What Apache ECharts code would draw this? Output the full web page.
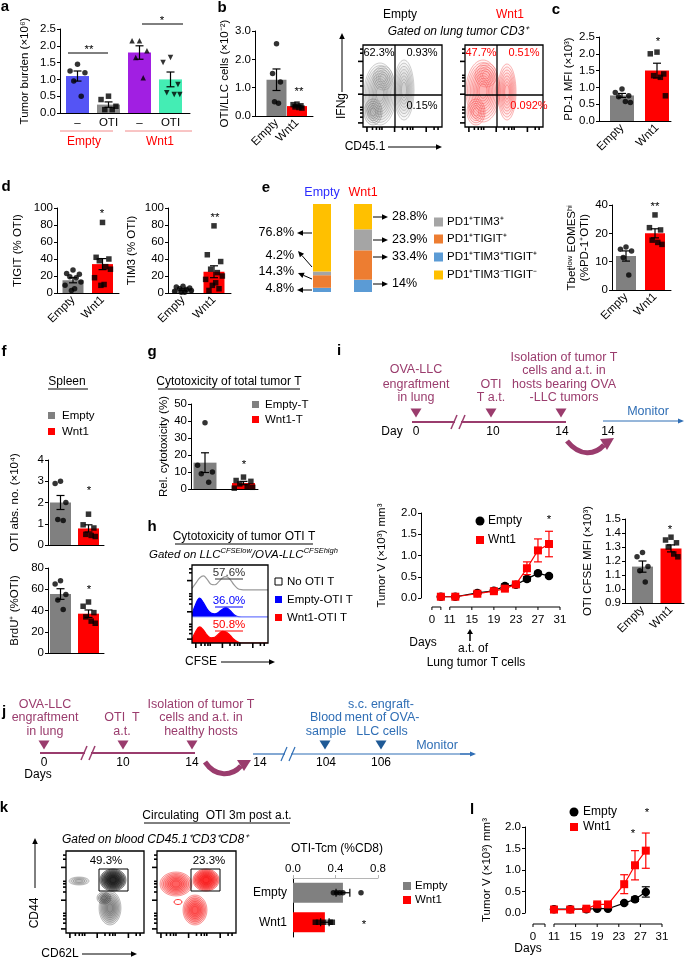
<!DOCTYPE html>
<html><head><meta charset="utf-8">
<script src="https://cdn.jsdelivr.net/npm/echarts@6.0.0/dist/echarts.min.js"></script>
<style>html,body{margin:0;padding:0;background:#fff;overflow:hidden}#c{width:685px;height:959px}</style>
</head><body><div id="c"></div>
<script>
// ================= DATA =================
// a
const catsA=['–','OTI','–','OTI'];
const groupsA=['Empty','Wnt1'];
const meanA=[1.10,0.25,1.80,1.00];
const semA=[0.15,0.08,0.20,0.22];
const ptsA=[[1.45,1.25,1.2,0.95,0.5],[0.5,0.4,0.2,0.1,0.1],[2.15,2.15,1.85,1.65,1.05],[1.65,1.5,0.85,0.6,0.55,0.55]];
// shared categories
const catsEW=['Empty','Wnt1'];
// b
const meanB=[1.28,0.35], semB=[0.38,0.03];
const ptsB=[[2.55,1.5,1.2,0.5,0.45],[0.42,0.4,0.36,0.32,0.3,0.28]];
const flowPctB=[['62.3%','0.93%','0.15%'],['47.7%','0.51%','0.092%']];
// c
const meanC=[0.76,1.50], semC=[0.06,0.22];
const ptsC=[[0.95,0.85,0.75,0.72,0.58,0.55],[2.05,2.0,1.4,1.35,1.3,0.75]];
// d
const meanTIGIT=[15,34], semTIGIT=[3.0,6.5];
const ptsTIGIT=[[27,23,22,19,18,13,9,5,3],[83,42,40,38,31,28,18,10,9]];
const meanTIM3=[4,25], semTIM3=[0.9,7.0];
const ptsTIM3=[[8,7,6,5,4,3,2,1,1],[79,45,37,28,24,20,16,12,9,5,3]];
// e
const subsets=['PD1⁺TIM3⁺','PD1⁺TIGIT⁺','PD1⁺TIM3⁺TIGIT⁺','PD1⁺TIM3⁻TIGIT⁻'];
const stackEmpty=[4.2,14.3,4.8,76.8];
const stackWnt1=[23.9,33.4,14,28.8];
const meanTbet=[12,20], semTbet=[1.8,1.6];
const ptsTbet=[[15.2,14.4,13.8,11.5,5.3],[26.5,22,21.2,17.6,16.8,16.1]];
const tbetTickLabels=['0','10','20','40'];
// f
const legF=['Empty','Wnt1'];
const meanSpl=[2.0,0.78], semSpl=[0.33,0.17];
const ptsSpl=[[3.0,2.9,2.0,1.2,1.15],[1.45,0.95,0.8,0.5,0.45,0.4]];
const meanBrdU=[55.5,37], semBrdU=[5,3.5];
const ptsBrdU=[[68,65,55,50,41],[48,44,38,34,30,28]];
// g
const legG=['Empty-T','Wnt1-T'];
const meanCyto=[15.5,3.5], semCyto=[5.8,1.0];
const ptsCyto=[[39,14,10,9,4],[7,5,4.5,3,1.5,1,0.5]];
// h
const legH=['No OTI T','Empty-OTI T','Wnt1-OTI T'];
const cfseBins=[0,0.05,0.1,0.15,0.2,0.25,0.3,0.35,0.4,0.45,0.5,0.55,0.6,0.65,0.7,0.75,0.8,0.85,0.9,0.95,1.0];
const histNo=[0.1,0.3,0.5,0.58,0.45,0.26,0.24,0.35,0.5,0.55,0.45,0.25,0.1,0.05,0.04,0.04,0.04,0.04,0.04,0.04,0.04];
const histEmpty=[0.1,0.5,0.73,0.55,0.3,0.15,0.12,0.18,0.3,0.35,0.25,0.1,0.02,0,0,0,0,0,0,0,0];
const histWnt1=[0.15,0.45,0.62,0.5,0.3,0.2,0.22,0.35,0.45,0.42,0.3,0.15,0.05,0,0,0,0,0,0,0,0];
const pctH=['57.6%','36.0%','50.8%'];
// i
const daysI=[10,12,16,19,21,23,25,27,29];
const tumEmptyI=[0.03,0.03,0.12,0.17,0.28,0.31,0.45,0.58,0.52];
const semEmptyI=[0.01,0.01,0.02,0.03,0.05,0.04,0.05,0.03,0.03];
const tumWnt1I=[0.03,0.03,0.1,0.16,0.22,0.32,0.7,1.12,1.27];
const semWnt1I=[0.01,0.01,0.02,0.03,0.04,0.04,0.15,0.27,0.3];
const tickDaysI=[0,11,15,19,23,27,31];
const meanCFSE=[1.16,1.29], semCFSE=[0.04,0.025];
const ptsCFSE=[[1.26,1.23,1.16,1.13,1.05],[1.37,1.35,1.33,1.3,1.25,1.23]];
// k
const meanTcm=[0.47,0.30], semTcm=[0.065,0.04];
const ptsTcm=[[0.38,0.41,0.44,0.47,0.64],[0.21,0.24,0.29,0.35,0.37]];
const flowPctK=['49.3%','23.3%'];
// l
const daysL=[11,14,17,19,21,24,26,28];
const tumEmptyL=[0.09,0.09,0.09,0.1,0.1,0.23,0.32,0.49];
const semEmptyL=[0.02,0.02,0.02,0.02,0.02,0.03,0.05,0.12];
const tumWnt1L=[0.08,0.08,0.1,0.2,0.2,0.67,1.11,1.45];
const semWnt1L=[0.02,0.02,0.03,0.04,0.04,0.22,0.34,0.41];
const tickDaysL=[0,11,15,19,23,27,31];

// ================= STYLE / HELPERS =================
const FONT='"Liberation Sans", Arial, Helvetica, sans-serif';
const GREY='#808080', RED='#FF0000';
const colA=['#5454F5','#8C8C8C','#A11FE2','#44EDB4'];
const colE=['#A5A5A5','#ED7D31','#5B9BD5','#FFC000'];
const PUR='#9A3C6D', TBLUE='#2F6EB5', TBLUE2='#1F5A96';
const JIT=[0,-0.24,0.24,-0.12,0.12,0.3,-0.3,0.06,-0.06,0.18,-0.18];
const LBL={color:'#000',fontSize:11.5,fontFamily:FONT};
const fmt1=v=>Number(v).toFixed(1);

const G=[],XA=[],YA=[],S=[],GR=[];

function txt(x,y,t,o={}){GR.push({type:'text',x,y,rotation:o.rot||0,z:30,silent:true,
  style:{text:t,fill:o.c||'#000',font:(o.it?'italic ':'')+(o.b?'bold ':'')+(o.s||11.5)+'px '+FONT,
  align:o.a||'center',verticalAlign:o.v||'middle',textAlign:o.a||'center',textVerticalAlign:o.v||'middle',rich:o.rich}});}
function ln(x1,y1,x2,y2,c='#000',w=1,z=25){GR.push({type:'line',z,silent:true,shape:{x1,y1,x2,y2},style:{stroke:c,lineWidth:w}});}
function poly(pts,c,z=25){GR.push({type:'polygon',z,silent:true,shape:{points:pts},style:{fill:c}});}
function rect(x,y,w,h,o={}){GR.push({type:'rect',z:o.z||25,silent:true,shape:{x,y,width:w,height:h},style:{fill:o.f||'none',stroke:o.s||null,lineWidth:o.w||1}});}
function ell(cx,cy,rx,ry,o={}){GR.push({type:'ellipse',z:o.z||22,silent:true,shape:{cx,cy,rx,ry},style:{fill:o.f||'none',stroke:o.s||null,lineWidth:o.w||0.8}});}
function arrow(x1,y1,x2,y2,c='#000',w=1,hl=6,hw=2.8){const a=Math.atan2(y2-y1,x2-x1);const bx=x2-hl*Math.cos(a),by=y2-hl*Math.sin(a);
  ln(x1,y1,bx,by,c,w);poly([[x2,y2],[bx+hw*Math.sin(a),by-hw*Math.cos(a)],[bx-hw*Math.sin(a),by+hw*Math.cos(a)]],c);}
function triDown(x,y,c,w=11,h=9){poly([[x-w/2,y-h/2],[x+w/2,y-h/2],[x,y+h/2]],c);}
function contour(cx,cy,rx,ry,n,stroke,fill){for(let i=0;i<n;i++){const f=1-i*0.85/n;ell(cx,cy,rx*f,ry*f,{s:stroke,f:fill,w:0.6});}}
function flowBox(x0,y0,w,h){rect(x0,y0,w,h,{s:'#000',w:1.3,z:27});
  const fr=[0.05,0.12,0.17,0.21,0.24,0.4,0.5,0.56,0.6,0.63,0.8,0.9,0.95];
  fr.forEach((f,i)=>{const L=(i%5===0)?5:3;ln(x0-L,y0+h*(1-f),x0,y0+h*(1-f),'#000',1.6,27);ln(x0+w*f,y0+h,x0+w*f,y0+h+L,'#000',1.6,27);});}

function errSeries(gi,xs,means,sems,cap,color='#000',horizontal=false){
  return {type:'custom',xAxisIndex:gi,yAxisIndex:gi,z:5,clip:false,silent:true,
    data:means.map((m,i)=>horizontal?[m,xs[i],sems[i]]:[xs[i],m,sems[i]]),
    renderItem(p,api){const st={stroke:color,lineWidth:1.2};
      if(horizontal){const m=api.value(0),i=api.value(1),s=api.value(2);const a=api.coord([m-s,i]),b=api.coord([m+s,i]);
        return {type:'group',children:[{type:'line',shape:{x1:a[0],y1:a[1],x2:b[0],y2:b[1]},style:st},
          {type:'line',shape:{x1:a[0],y1:a[1]-cap,x2:a[0],y2:a[1]+cap},style:st},{type:'line',shape:{x1:b[0],y1:b[1]-cap,x2:b[0],y2:b[1]+cap},style:st}]};}
      const x=api.value(0),m=api.value(1),s=api.value(2);const a=api.coord([x,m+s]),b=api.coord([x,m-s]);
      return {type:'group',children:[{type:'line',shape:{x1:a[0],y1:a[1],x2:b[0],y2:b[1]},style:st},
        {type:'line',shape:{x1:a[0]-cap,y1:a[1],x2:a[0]+cap,y2:a[1]},style:st},{type:'line',shape:{x1:b[0]-cap,y1:b[1],x2:b[0]+cap,y2:b[1]},style:st}]};}};
}
function yAx(gi,o){return {gridIndex:gi,type:'value',min:o.ymin,max:o.ymax,interval:o.interval,
  axisLine:{show:true,onZero:false,lineStyle:{color:'#000',width:1}},axisTick:{show:true,length:3,lineStyle:{color:'#000'}},
  splitLine:{show:false},axisLabel:Object.assign({margin:4,formatter:o.yfmt||(v=>String(v))},LBL),
  name:o.name,nameLocation:'middle',nameGap:o.nameGap,nameRotate:90,nameTextStyle:Object.assign({lineHeight:13},LBL)};}

function barPanel(o){
  const gi=G.length,w=o.xEnd-o.axisX;
  G.push({left:o.axisX,top:o.yTop,width:w,height:o.y0-o.yTop,outerBoundsMode:'none'});
  const xmin=-(o.c0-o.axisX)/o.step,xmax=xmin+w/o.step;
  XA.push({gridIndex:gi,type:'value',min:xmin,max:xmax,splitLine:{show:false},
    axisLine:{show:true,onZero:false,lineStyle:{color:'#000',width:1}},axisTick:{show:false},
    axisLabel:Object.assign({show:o.showX!==false,customValues:o.cats.map((c,i)=>i),formatter:v=>o.cats[Math.round(v)]||'',
      rotate:o.rotate||0,margin:o.xMargin||5},LBL,{fontSize:o.xSize||11.5})});
  YA.push(yAx(gi,o));
  S.push({type:'bar',xAxisIndex:gi,yAxisIndex:gi,barWidth:o.barWidth,z:2,silent:true,
    data:o.means.map((m,i)=>({value:[i,m],itemStyle:{color:o.colors[i]}}))});
  S.push(errSeries(gi,o.cats.map((c,i)=>i),o.means,o.sems,o.cap||4));
  o.pts.forEach((arr,i)=>S.push({type:'scatter',xAxisIndex:gi,yAxisIndex:gi,symbol:o.symbols[i],symbolSize:o.sym||5.5,
    symbolRotate:o.rot?o.rot[i]:0,itemStyle:{color:'#000'},z:4,silent:true,data:arr.map((v,j)=>[i+JIT[j%JIT.length]*(o.jw||1),v])}));
}

function linePanel(o){
  const gi=G.length;
  G.push({left:o.axisX,top:o.yTop,width:o.xEnd-o.axisX,height:o.y0-o.yTop,outerBoundsMode:'none'});
  const pos=d=>d<=o.seg1End?o.s1a+d*o.s1k:d;
  XA.push({gridIndex:gi,type:'value',min:o.xmin,max:o.xmax,show:false});
  YA.push(yAx(gi,o));
  S.push({type:'custom',xAxisIndex:gi,yAxisIndex:gi,clip:false,silent:true,z:3,data:[[0,0]],renderItem(p,api){
    const yv=api.coord([o.xmin,o.ymin])[1]+o.xoff;const ch=[];const X=d=>api.coord([pos(d),o.ymin])[0];
    const seg=(a,b)=>ch.push({type:'line',shape:{x1:X(a),y1:yv,x2:X(b),y2:yv},style:{stroke:'#000',lineWidth:1}});
    seg(0,o.seg1End);seg(o.ticks[1],o.ticks[o.ticks.length-1]);
    [0,o.seg1End].concat(o.ticks.slice(1)).forEach(d=>ch.push({type:'line',shape:{x1:X(d),y1:yv,x2:X(d),y2:yv+3},style:{stroke:'#000',lineWidth:1}}));
    o.ticks.forEach(d=>ch.push({type:'text',x:X(d),y:yv+13,style:{text:String(d),fill:'#000',font:'11.5px '+FONT,align:'center',verticalAlign:'middle'}}));
    return {type:'group',children:ch};}});
  const ser=(vals,sems,col,sym,z)=>{S.push({type:'line',xAxisIndex:gi,yAxisIndex:gi,z,silent:true,data:o.days.map((d,i)=>[pos(d),vals[i]]),
      symbol:sym,symbolSize:sym==='rect'?8:8.5,itemStyle:{color:col},lineStyle:{color:col,width:1.2}});
    const e=errSeries(gi,o.days.map(pos),vals,sems,4,col);e.z=z;S.push(e);};
  o.order.forEach(k=>{if(k==='e')ser(o.emp,o.empSem,'#000','circle',6);else ser(o.wnt,o.wntSem,RED,'rect',7);});
}

// ================= PANELS =================
// ---- a ----
txt(5,7,'a',{b:true,s:15});
barPanel({axisX:60,xEnd:190,c0:77.5,step:31,yTop:29,y0:113,ymin:0,ymax:2.5,interval:0.5,yfmt:fmt1,barWidth:23,
  cats:catsA,means:meanA,sems:semA,pts:ptsA,colors:colA,symbols:['circle','rect','triangle','triangle'],rot:[0,0,0,180],
  name:'Tumor burden (×10⁶)',nameGap:29,xMargin:4});
ln(60,131,113,131,'#F28A8A',1);ln(125,131,192,131,'#F28A8A',1);
txt(84,142,groupsA[0],{c:RED,s:12});txt(160,142,groupsA[1],{c:RED,s:12});
ln(68,53,108,53);txt(89,50,'**');ln(142,24,183,24);txt(162,21,'*');

// ---- b ----
txt(222,8,'b',{b:true,s:15});
barPanel({axisX:255,xEnd:313,c0:276.5,step:20.5,yTop:31,y0:116,ymin:0,ymax:3,interval:1,yfmt:fmt1,barWidth:20,
  cats:catsEW,means:meanB,sems:semB,pts:ptsB,colors:[GREY,RED],symbols:['circle','rect'],rotate:45,
  name:'OTI/LLC cells (×10⁻²)',nameGap:21,jw:0.8});
txt(299,92,'**');
// flow plots b
txt(400,15,catsEW[0],{s:12});txt(510,15,catsEW[1],{c:RED,s:12});
txt(458,32,'Gated on lung tumor CD3⁺',{it:true,s:12});
contour(380,94,16,31,10,'rgba(110,110,110,0.55)','rgba(150,150,150,0.07)');
contour(404,90,10,30,8,'rgba(110,110,110,0.55)','rgba(150,150,150,0.07)');
contour(373,112,9,13,5,'rgba(90,90,90,0.6)','rgba(120,120,120,0.08)');
contour(383,78,10,12,5,'rgba(110,110,110,0.5)','rgba(150,150,150,0.05)');
contour(483,91,17,31,10,'rgba(240,50,50,0.6)','rgba(255,110,110,0.06)');
contour(507,92,9,28,8,'rgba(240,50,50,0.6)','rgba(255,110,110,0.06)');
contour(476,112,9,13,5,'rgba(240,40,40,0.6)','rgba(255,110,110,0.07)');
contour(486,75,11,12,5,'rgba(240,50,50,0.5)','rgba(255,110,110,0.05)');
flowBox(363,45,79,82);flowBox(465,45,78,82);
ln(395,45,395,127,'#000',1.3,27);ln(363,95,442,95,'#000',1.3,27);
ln(497,45,497,127,'#000',1.3,27);ln(465,95,543,95,'#000',1.3,27);
txt(379,53,flowPctB[0][0],{s:11});txt(422,53,flowPctB[0][1],{s:11});txt(422,106,flowPctB[0][2],{s:11});
txt(481,53,flowPctB[1][0],{s:11,c:RED});txt(524,53,flowPctB[1][1],{s:11,c:RED});txt(529,106,flowPctB[1][2],{s:11,c:RED});
arrow(342,92,342,33);txt(342,106,'IFNg',{rot:Math.PI/2,s:12});
txt(365,147,'CD45.1',{s:12});arrow(388,147,442,147);

// ---- c ----
txt(556,10,'c',{b:true,s:15});
barPanel({axisX:599,xEnd:671,c0:622,step:35,yTop:37,y0:121,ymin:0,ymax:2.5,interval:0.5,yfmt:fmt1,barWidth:24,
  cats:catsEW,means:meanC,sems:semC,pts:ptsC,colors:[GREY,RED],symbols:['circle','rect'],rotate:45,
  name:'PD-1 MFI (×10³)',nameGap:15,jw:0.8});
txt(658,42,'*');

// ---- d ----
txt(6,187,'d',{b:true,s:15});
barPanel({axisX:57,xEnd:119,c0:73,step:29.5,yTop:208,y0:293,ymin:0,ymax:100,interval:20,barWidth:21,
  cats:catsEW,means:meanTIGIT,sems:semTIGIT,pts:ptsTIGIT,colors:[GREY,RED],symbols:['circle','rect'],rotate:45,
  name:'TIGIT (% OTI)',nameGap:33,jw:0.9});
txt(102,214,'*');
barPanel({axisX:168,xEnd:231,c0:183,step:31,yTop:208,y0:293,ymin:0,ymax:100,interval:20,barWidth:21,
  cats:catsEW,means:meanTIM3,sems:semTIM3,pts:ptsTIM3,colors:[GREY,RED],symbols:['circle','rect'],rotate:45,
  name:'TIM3 (% OTI)',nameGap:30,jw:0.9});
txt(215,218,'**');

// ---- e ----
txt(266,188,'e',{b:true,s:15});
txt(322,193,catsEW[0],{c:'#2B2BFF',s:12.5});txt(363,193,catsEW[1],{c:RED,s:12.5});
(function(){const gi=G.length;G.push({left:301.5,top:204,width:82,height:88,outerBoundsMode:'none'});
  XA.push({gridIndex:gi,type:'category',data:catsEW,show:false});
  YA.push({gridIndex:gi,type:'value',min:0,max:100.1,show:false});
  [2,1,0,3].forEach(k=>S.push({type:'bar',stack:'e',xAxisIndex:gi,yAxisIndex:gi,barWidth:18,silent:true,
    itemStyle:{color:colE[k]},data:[stackEmpty[k],stackWnt1[k]]}));})();
txt(294,233,stackEmpty[3]+'%',{a:'right',s:12.5});arrow(312,233,297,233);
txt(294,256,stackEmpty[0]+'%',{a:'right',s:12.5});arrow(312,267,298,251);
txt(294,272,stackEmpty[1]+'%',{a:'right',s:12.5});arrow(312,279,298,273);
txt(294,289,stackEmpty[2]+'%',{a:'right',s:12.5});arrow(312,290,297,290);
[[3,217],[0,240],[1,257],[2,284]].forEach(([k,y])=>{arrow(373,y,388,y);txt(392,y,stackWnt1[k]+'%',{a:'left',s:12.5});});
[222,239,257,275].forEach((y,k)=>{rect(434,y-4.5,9,9,{f:colE[k],z:26});txt(447,y,subsets[k],{a:'left',s:11.5});});
barPanel({axisX:612,xEnd:671,c0:626,step:29,yTop:205,y0:290,ymin:0,ymax:30,interval:10,yfmt:v=>tbetTickLabels[Math.round(v/10)],barWidth:20,
  cats:catsEW,means:meanTbet,sems:semTbet,pts:ptsTbet,colors:[GREY,RED],symbols:['circle','rect'],rotate:45,
  name:'Tbetˡᵒʷ EOMESʰⁱ\n(%PD-1⁺OTI)',nameGap:21,jw:0.8});
txt(655,207,'**');

// ---- f ----
txt(4,352,'f',{b:true,s:15});
txt(67,382,'Spleen',{s:12});ln(48,389,88,389);
rect(48,412,7,7,{f:GREY});txt(62,416,legF[0],{a:'left',s:11.5});
rect(48,428,7,7,{f:RED});txt(62,432,legF[1],{a:'left',s:11.5});
barPanel({axisX:48,xEnd:104,c0:60.5,step:28,yTop:460,y0:545,ymin:0,ymax:4,interval:1,barWidth:21,showX:false,
  cats:catsEW,means:meanSpl,sems:semSpl,pts:ptsSpl,colors:[GREY,RED],symbols:['circle','rect'],
  name:'OTI abs. no. (×10⁴)',nameGap:27,jw:0.8});
txt(89,491,'*');
barPanel({axisX:48,xEnd:104,c0:60.5,step:28,yTop:568,y0:653,ymin:0,ymax:80,interval:20,barWidth:21,showX:false,
  cats:catsEW,means:meanBrdU,sems:semBrdU,pts:ptsBrdU,colors:[GREY,RED],symbols:['circle','rect'],
  name:'BrdU⁺ (%OTI)',nameGap:27,jw:0.8});
txt(89,590,'*');

// ---- g ----
txt(152,352,'g',{b:true,s:15});
txt(229,382,'Cytotoxicity of total tumor T',{s:12});ln(158,389,300,389);
rect(252,401,7,7,{f:GREY});txt(265,405,legG[0],{a:'left',s:11.5});
rect(252,416,7,7,{f:RED});txt(265,420,legG[1],{a:'left',s:11.5});
barPanel({axisX:191,xEnd:258,c0:205,step:38.5,yTop:404,y0:489,ymin:0,ymax:50,interval:10,barWidth:23,showX:false,
  cats:catsEW,means:meanCyto,sems:semCyto,pts:ptsCyto,colors:[GREY,RED],symbols:['circle','rect'],
  name:'Rel. cytotoxicity (%)',nameGap:18,jw:0.8});
txt(244,465,'*');

// ---- h ----
txt(152,527,'h',{b:true,s:15});
txt(244,537,'Cytotoxicity of tumor OTI T',{s:12});ln(175,544,313,544);
txt(149,555,'{n|Gated on LLC}{s|CFSElow}{n|/OVA-LLC}{s|CFSEhigh}',{a:'left',rich:{
  n:{fontStyle:'italic',fontSize:11.5,fontFamily:FONT,fill:'#000',color:'#000',lineHeight:16},
  s:{fontStyle:'italic',fontSize:7.5,fontFamily:FONT,fill:'#000',color:'#000',lineHeight:9,verticalAlign:'top'}}});
[[565,histNo,'#9a9a9a',null],[591,histEmpty,'#0000FF','#0000FF'],[617,histWnt1,RED,RED]].forEach(([top,data,lc,fc])=>{
  const gi=G.length;G.push({left:192,top,width:76,height:26,outerBoundsMode:'none'});
  XA.push({gridIndex:gi,type:'value',min:0,max:1,show:false});YA.push({gridIndex:gi,type:'value',min:0,max:1,show:false});
  const s={type:'line',xAxisIndex:gi,yAxisIndex:gi,silent:true,z:3,smooth:0.4,symbol:'none',lineStyle:{color:lc,width:1.2},
    data:cfseBins.map((b,i)=>[b,data[i]])};if(fc)s.areaStyle={color:fc,opacity:1};S.push(s);});
ln(192,617,268,617,'#A9B8FF',1.2);
flowBox(192,565,76,78);
txt(229,573,pctH[0],{c:'#333'});ln(215,579,243,579,'#333');
txt(229,601,pctH[1],{c:'#0000FF'});ln(215,607,243,607,'#0000FF');
txt(229,625,pctH[2],{c:RED});ln(215,631,243,631,RED);
rect(275,578,7,7,{s:'#000',f:'#fff'});txt(287,582,legH[0],{a:'left',s:11.5});
rect(275,596,7,7,{f:'#0000FF'});txt(287,600,legH[1],{a:'left',s:11.5});
rect(275,614,7,7,{f:RED});txt(287,618,legH[2],{a:'left',s:11.5});
txt(201,662,'CFSE',{s:12});arrow(221,662,275,662);

// ---- i ----
txt(339,351,'i',{b:true,s:15});
[['OVA-LLC',416,370],['engraftment',416,385],['in lung',416,398],['OTI',491,385],['T a.t.',491,398],
 ['Isolation of tumor T',564,358],['cells and a.t. in',564,371],['hosts bearing OVA',564,385],['-LLC tumors',564,398]]
 .forEach(([t,x,y])=>txt(x,y,t,{c:PUR,s:12.5}));
triDown(416,413,PUR);triDown(491,413,PUR);triDown(561,413,PUR);
ln(412,422,455,422,PUR,2);ln(461,422,566,422,PUR,2);ln(451,429,457,415,PUR,1.5);ln(459,429,465,415,PUR,1.5);
txt(392,432,'Day',{s:12});txt(416,432,'0',{s:12});txt(493,432,'10',{s:12});txt(562,432,'14',{s:12});txt(608,432,'14',{s:12});
GR.push({type:'bezierCurve',z:25,silent:true,shape:{x1:567,y1:441,cpx1:580,cpy1:457,cpx2:595,cpy2:455,x2:604,y2:445},style:{stroke:PUR,lineWidth:5,fill:'none'}});
poly([[614,438],[600,439],[607,450]],PUR);
txt(648,412,'Monitor',{c:TBLUE,s:12.5});arrow(603,421,684,421,TBLUE,1,6,2.5);
linePanel({axisX:421,xEnd:560,yTop:513,y0:598,ymin:0,ymax:2,interval:0.5,yfmt:fmt1,name:'Tumor V (×10³) mm³',nameGap:33,
  xmin:5.775,xmax:31,seg1End:10,s1a:7.757,s1k:0.1622,xoff:9,ticks:tickDaysI,
  days:daysI,emp:tumEmptyI,empSem:semEmptyI,wnt:tumWnt1I,wntSem:semWnt1I,order:['w','e']});
txt(549,520,'*');
GR.push({type:'circle',z:26,silent:true,shape:{cx:480,cy:521,r:4.5},style:{fill:'#000'}});txt(488,521,catsEW[0],{a:'left',s:12});
rect(476,536,8,8,{f:RED});txt(488,540,catsEW[1],{a:'left',s:12});
txt(423,643,'Days',{s:12});arrow(470,641,470,629,'#000',1.5,5,3);
txt(473,649,'a.t. of',{s:12});txt(476,663,'Lung tumor T cells',{s:12});
barPanel({axisX:625,xEnd:684,c0:642.5,step:28.5,yTop:519,y0:603,ymin:0.9,ymax:1.5,interval:0.1,yfmt:fmt1,barWidth:21,
  cats:catsEW,means:meanCFSE,sems:semCFSE,pts:ptsCFSE,colors:[GREY,RED],symbols:['circle','rect'],rotate:45,
  name:'OTI CFSE MFI (×10³)',nameGap:31,jw:0.8});
txt(670,530,'*');

// ---- j ----
txt(4,712,'j',{b:true,s:15});
[['OVA-LLC',45,705],['engraftment',45,718],['in lung',45,732],['OTI  T',122,718],['a.t.',122,732],
 ['Isolation of tumor T',201,705],['cells and a.t. in',201,718],['healthy hosts',201,732]].forEach(([t,x,y])=>txt(x,y,t,{c:PUR,s:12.5}));
[['s.c. engraft-',381,705],['Blood',326,718],['ment of OVA-',382,718],['sample',326,732],['LLC cells',382,732],['Monitor',437,746]]
 .forEach(([t,x,y])=>txt(x,y,t,{c:TBLUE,s:12.5}));
triDown(44,745,PUR);triDown(123,745,PUR);triDown(192,745,PUR);triDown(325,745,TBLUE2);triDown(381,745,TBLUE2);
ln(40,753,85,753,PUR,2);ln(91,753,195,753,PUR,2);ln(81,760,87,746,PUR,1.5);ln(89,760,95,746,PUR,1.5);
ln(253,754,285,754,TBLUE,1.2);ln(291,754,470,754,TBLUE,1.2);ln(281,761,287,747,TBLUE,1.2);ln(289,761,295,747,TBLUE,1.2);
arrow(460,754,476,754,TBLUE,1.2,6,2.5);
txt(44,763,'0',{s:12});txt(38,775,'Days',{s:12});txt(123,763,'10',{s:12});txt(192,763,'14',{s:12});
txt(260,763,'14',{s:12});txt(326,763,'104',{s:12});txt(381,763,'106',{s:12});
GR.push({type:'bezierCurve',z:25,silent:true,shape:{x1:205,y1:762,cpx1:216,cpy1:778,cpx2:232,cpy2:776,x2:241,y2:766},style:{stroke:PUR,lineWidth:5,fill:'none'}});
poly([[251,760],[237,760],[244,771]],PUR);

// ---- k ----
txt(4,808,'k',{b:true,s:15});
txt(217,816,'Circulating  OTI 3m post a.t.',{s:12});ln(144,823,290,823);
txt(155,840,'Gated on blood CD45.1⁺CD3⁺CD8⁺',{it:true,s:12});
contour(79,881,10,4,4,'rgba(110,110,110,0.7)','rgba(150,150,150,0.22)');
contour(110,908,11,17,8,'rgba(90,90,90,0.6)','rgba(110,110,110,0.16)');
contour(113,880,13,11,9,'rgba(20,20,20,0.85)','rgba(20,20,20,0.24)');
contour(104,898,7,6,4,'rgba(60,60,60,0.6)','rgba(60,60,60,0.16)');
contour(176,884,16,12,8,'rgba(240,30,30,0.7)','rgba(255,50,50,0.16)');
contour(195,910,12,15,8,'rgba(240,30,30,0.7)','rgba(255,50,50,0.18)');
contour(206,880,13,11,9,'rgba(240,20,20,0.85)','rgba(255,30,30,0.24)');
ell(178,902,4,2.5,{s:RED});
flowBox(66,851,78,82);flowBox(157,851,79,82);
rect(99,869,29,22,{s:'#000',w:1,z:28});rect(191,869,29,22,{s:'#000',w:1,z:28});
txt(106,861,flowPctK[0]);txt(209,861,flowPctK[1]);
arrow(35,888,35,838);txt(35,913,'CD44',{rot:Math.PI/2,s:12});
txt(60,954,'CD62L',{s:12});arrow(82,954,137,954);
txt(337,849,'OTI-Tcm (%CD8)',{s:12});
(function(){const gi=G.length;G.push({left:293,top:878,width:85,height:59,outerBoundsMode:'none'});
  XA.push({gridIndex:gi,type:'value',position:'top',min:0,max:0.8,interval:0.4,splitLine:{show:false},
    axisLine:{show:true,onZero:false,lineStyle:{color:'#b5b5b5'}},axisTick:{show:true,length:3,lineStyle:{color:'#b5b5b5'}},
    axisLabel:Object.assign({margin:3,formatter:fmt1},LBL)});
  YA.push({gridIndex:gi,type:'category',data:catsEW,inverse:true,axisLine:{show:true,onZero:false,lineStyle:{color:'#000'}},
    axisTick:{show:false},axisLabel:Object.assign({margin:6},LBL,{fontSize:12})});
  S.push({type:'bar',xAxisIndex:gi,yAxisIndex:gi,barWidth:20,z:2,silent:true,data:meanTcm.map((m,i)=>({value:m,itemStyle:{color:[GREY,RED][i]}}))});
  S.push(errSeries(gi,[0,1],meanTcm,semTcm,4,'#000',true));
  ptsTcm.forEach((arr,i)=>S.push({type:'scatter',xAxisIndex:gi,yAxisIndex:gi,symbol:['circle','rect'][i],symbolSize:5.5,z:4,silent:true,
    itemStyle:{color:'#000'},data:arr.map(v=>[v,i])}));})();
txt(364,925,'*');
rect(403,882,8,8,{f:GREY});txt(415,886,catsEW[0],{a:'left',s:11.5});
rect(403,896,8,8,{f:RED});txt(415,900,catsEW[1],{a:'left',s:11.5});

// ---- l ----
txt(472,810,'l',{b:true,s:15});
linePanel({axisX:525,xEnd:662,yTop:827,y0:913,ymin:0,ymax:2,interval:0.5,yfmt:fmt1,name:'Tumor V (×10³) mm³',nameGap:32,
  xmin:5.63,xmax:31,seg1End:10,s1a:7.111,s1k:0.2222,xoff:11,ticks:tickDaysL,
  days:daysL,emp:tumEmptyL,empSem:semEmptyL,wnt:tumWnt1L,wntSem:semWnt1L,order:['e','w']});
txt(633,834,'*');txt(647,813,'*');
GR.push({type:'circle',z:26,silent:true,shape:{cx:574,cy:812,r:4.5},style:{fill:'#000'}});txt(583,812,catsEW[0],{a:'left',s:12});
rect(570,823,8,8,{f:RED});txt(583,827,catsEW[1],{a:'left',s:12});
txt(528,949,'Days',{s:12});

// ================= CHART =================
const chart=echarts.init(document.getElementById('c'),null,{renderer:'canvas'});
chart.setOption({animation:false,backgroundColor:'#fff',textStyle:{fontFamily:FONT},
  grid:G,xAxis:XA,yAxis:YA,series:S,graphic:{elements:GR}});
</script></body></html>
